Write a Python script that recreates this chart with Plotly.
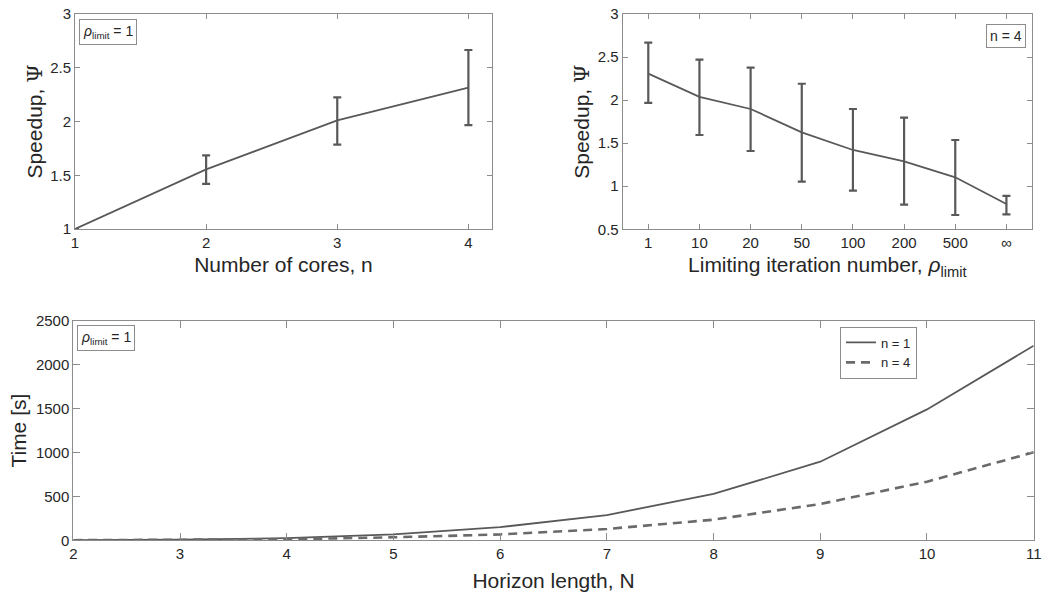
import plotly.graph_objects as go

# ---- Data ----
cores = [1, 2, 3, 4]
speedup_cores = [1.0, 1.555, 2.01, 2.315]
speedup_cores_hi = [1.0, 1.684, 2.225, 2.665]
speedup_cores_lo = [1.0, 1.42, 1.785, 1.967]

rho_labels = ["1", "10", "20", "50", "100", "200", "500", "∞"]
speedup_rho = [2.307, 2.037, 1.897, 1.626, 1.421, 1.29, 1.104, 0.794]
speedup_rho_hi = [2.667, 2.47, 2.377, 2.19, 1.897, 1.796, 1.537, 0.887]
speedup_rho_lo = [1.967, 1.595, 1.409, 1.053, 0.948, 0.786, 0.666, 0.674]

horizon = [2, 3, 4, 5, 6, 7, 8, 9, 10, 11]
time_n1 = [2, 8, 25, 68, 150, 288, 528, 896, 1492, 2218]
time_n4 = [1, 4, 12, 34, 67, 129, 235, 414, 668, 1003]

# ---- Style ----
W, H = 1050, 594
LINE = "#595959"
AXC = "#8c8c8c"
TXT = "#262626"
FONT = "Liberation Sans, Arial, sans-serif"


def fx(p):
    return p / W


def fy(p):
    return 1 - p / H


def px_dom_x(a, b):
    return [fx(a), fx(b)]


def px_dom_y(top, bottom):
    return [fy(bottom), fy(top)]


fig = go.Figure()

x_rho = list(range(1, len(rho_labels) + 1))

fig.add_trace(go.Scatter(
    x=cores, y=speedup_cores, mode="lines", xaxis="x", yaxis="y",
    line=dict(color=LINE, width=1.8), showlegend=False,
    error_y=dict(type="data", symmetric=False,
                 array=[h - v for h, v in zip(speedup_cores_hi, speedup_cores)],
                 arrayminus=[v - l for l, v in zip(speedup_cores_lo, speedup_cores)],
                 color=LINE, thickness=2.2, width=4),
))

fig.add_trace(go.Scatter(
    x=x_rho, y=speedup_rho, mode="lines", xaxis="x2", yaxis="y2",
    line=dict(color=LINE, width=1.8), showlegend=False,
    error_y=dict(type="data", symmetric=False,
                 array=[h - v for h, v in zip(speedup_rho_hi, speedup_rho)],
                 arrayminus=[v - l for l, v in zip(speedup_rho_lo, speedup_rho)],
                 color=LINE, thickness=2.2, width=4),
))

fig.add_trace(go.Scatter(
    x=horizon, y=time_n1, mode="lines", xaxis="x3", yaxis="y3",
    name="n = 1", line=dict(color=LINE, width=1.8),
))
fig.add_trace(go.Scatter(
    x=horizon, y=time_n4, mode="lines", xaxis="x3", yaxis="y3",
    name="n = 4", line=dict(color="#6a6a6a", width=2.6, dash="9px,6px"),
))

common_ax = dict(
    showline=True, linecolor=AXC, linewidth=1, mirror="ticks",
    ticks="inside", tickcolor=AXC, showgrid=False, zeroline=False,
    automargin=False, ticklabeloverflow="allow",
    tickfont=dict(family=FONT, size=15, color=TXT),
)

title_font = dict(family=FONT, size=21, color=TXT)
ytitle = 'Speedup, <span style="font-family:DejaVu Serif">Ψ</span>'

fig.update_layout(
    template="none",
    width=W, height=H,
    margin=dict(l=0, r=0, t=0, b=0),
    paper_bgcolor="white", plot_bgcolor="white",
    font=dict(family=FONT, color=TXT),
    xaxis=dict(common_ax, domain=px_dom_x(75, 492), anchor="y",
               range=[1, 4.18], tickvals=[1, 2, 3, 4], ticklen=5,
               title=dict(text="Number of cores, n", font=title_font, standoff=7)),
    yaxis=dict(common_ax, domain=px_dom_y(14, 229), anchor="x",
               range=[1, 3], tickvals=[1, 1.5, 2, 2.5, 3], ticklen=5,
               title=dict(text=ytitle, font=title_font, standoff=1)),
    xaxis2=dict(common_ax, domain=px_dom_x(622.7, 1032), anchor="y2",
                range=[0.5, 8.5], tickvals=x_rho, ticktext=rho_labels, ticklen=5,
                title=dict(text="Limiting iteration number, <i>ρ</i><sub>limit</sub>",
                           font=title_font, standoff=7)),
    yaxis2=dict(common_ax, domain=px_dom_y(14, 229.3), anchor="x2",
                range=[0.5, 3], tickvals=[0.5, 1, 1.5, 2, 2.5, 3], ticklen=5,
                title=dict(text=ytitle, font=title_font, standoff=2)),
    xaxis3=dict(common_ax, domain=px_dom_x(73.3, 1033.7), anchor="y3",
                range=[2, 11], tickvals=horizon, ticklen=7,
                title=dict(text="Horizon length, N", font=title_font, standoff=12)),
    yaxis3=dict(common_ax, domain=px_dom_y(321, 540.3), anchor="x3",
                range=[0, 2500], tickvals=[0, 500, 1000, 1500, 2000, 2500], ticklen=7,
                title=dict(text="Time [s]", font=title_font, standoff=3)),
    legend=dict(x=fx(840), y=fy(326.5), xanchor="left", yanchor="top",
                bgcolor="white", bordercolor=AXC, borderwidth=1,
                font=dict(family=FONT, size=13, color=TXT),
                tracegroupgap=0, itemwidth=30),
)

box_font = dict(family=FONT, size=14, color=TXT)
fig.add_annotation(text="<i>ρ</i><sub>limit</sub> = 1", xref="paper", yref="paper",
                   x=fx(79), y=fy(19), xanchor="left", yanchor="top",
                   showarrow=False, bordercolor=AXC, borderwidth=1, borderpad=3,
                   bgcolor="white", font=box_font)
fig.add_annotation(text="n = 4", xref="paper", yref="paper",
                   x=fx(1026), y=fy(24), xanchor="right", yanchor="top",
                   showarrow=False, bordercolor=AXC, borderwidth=1, borderpad=3,
                   bgcolor="white", font=box_font)
fig.add_annotation(text="<i>ρ</i><sub>limit</sub> = 1", xref="paper", yref="paper",
                   x=fx(77), y=fy(325), xanchor="left", yanchor="top",
                   showarrow=False, bordercolor=AXC, borderwidth=1, borderpad=3,
                   bgcolor="white", font=box_font)

fig.write_html("out.html", config={"displayModeBar": False},
               post_script="document.body.style.margin='0';")
